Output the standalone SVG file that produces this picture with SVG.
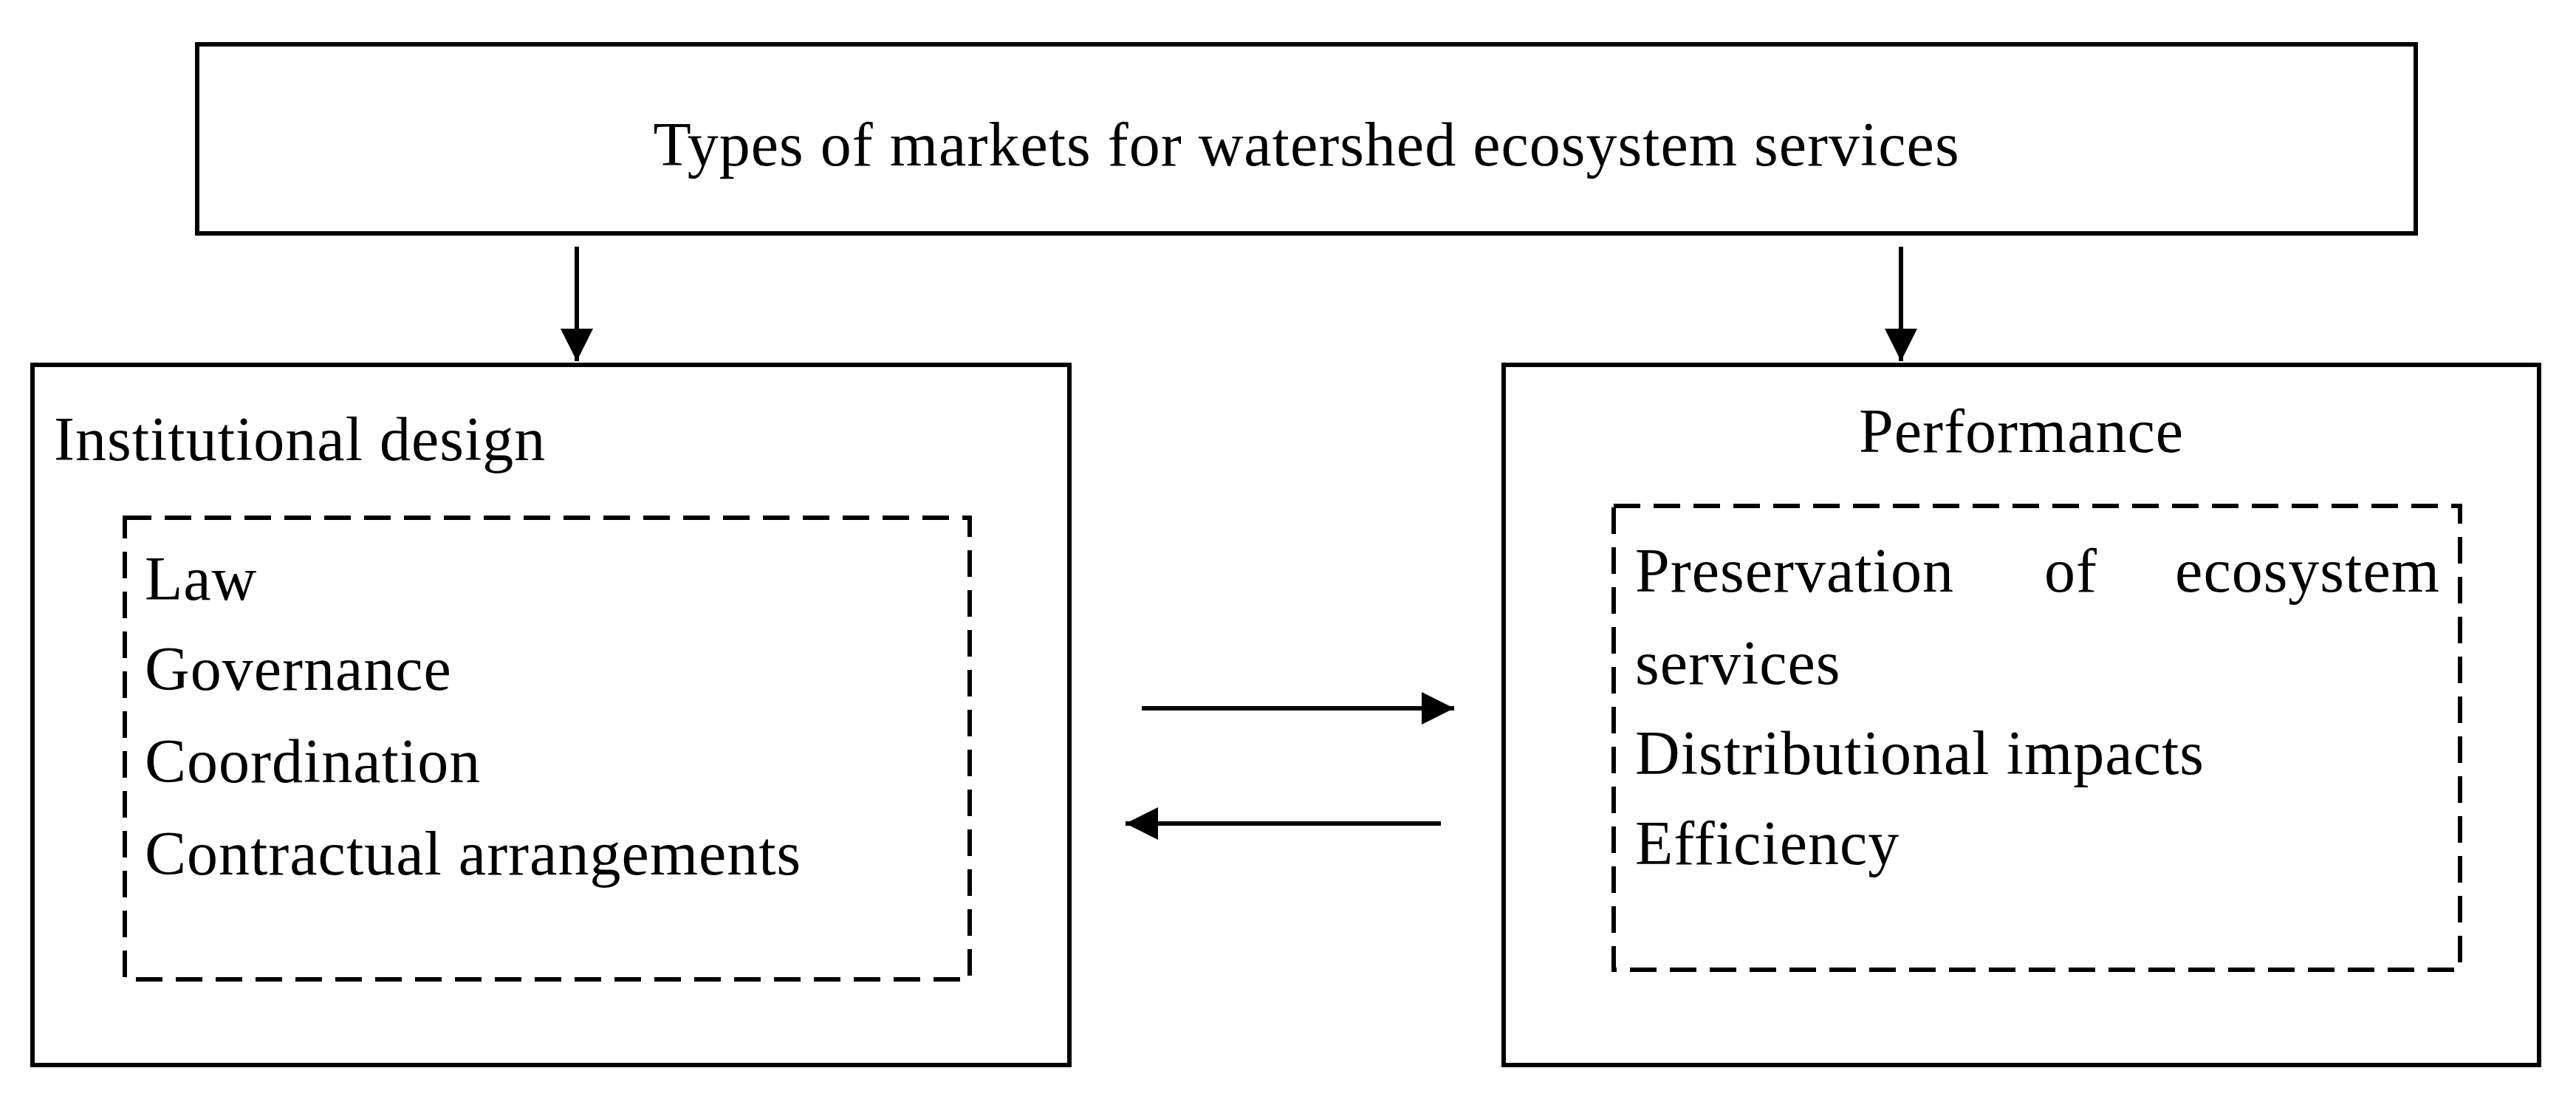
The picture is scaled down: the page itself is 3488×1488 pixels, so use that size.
<svg xmlns="http://www.w3.org/2000/svg" width="3488" height="1488" viewBox="0 0 3488 1488">
<style>
.b{fill:none;stroke:#000;stroke-width:6}
.d{fill:none;stroke:#000;stroke-width:6;stroke-dasharray:36,18}
.l{stroke:#000;stroke-width:6;fill:none}
text{font-family:"Liberation Serif",serif;font-size:84px;fill:#000;letter-spacing:1px}
</style>
<defs>
<marker id="m" viewBox="0 0 10 10" refX="10" refY="5" markerWidth="48" markerHeight="44" markerUnits="userSpaceOnUse" orient="auto"><path d="M0,0L10,5L0,10z" fill="#000"/></marker></defs>
<g id="top"><rect class="b" x="267" y="60" width="3004" height="256"/><text x="1769" y="224" text-anchor="middle">Types of markets for watershed ecosystem services</text></g>
<g id="institutional"><rect class="b" x="44" y="494" width="1404" height="948"/><text x="73" y="623">Institutional design</text>
<rect class="d" x="169" y="701" width="1144" height="625"/>
<text x="196" y="812">Law</text><text x="196" y="934">Governance</text><text x="196" y="1059">Coordination</text><text x="196" y="1184">Contractual arrangements</text></g>
<g id="performance"><rect class="b" x="2036" y="494" width="1402" height="948"/><text x="2737" y="612" text-anchor="middle">Performance</text>
<rect class="d" x="2185" y="685" width="1146" height="628"/>
<text x="2214" y="801">Preservation</text><text x="2768" y="801">of</text><text x="3304" y="801" text-anchor="end">ecosystem</text>
<text x="2214" y="926">services</text><text x="2214" y="1048">Distributional impacts</text><text x="2214" y="1170">Efficiency</text></g>
<g id="connectors">
<line class="l" x1="781" y1="334" x2="781" y2="489" marker-end="url(#m)"/>
<line class="l" x1="2574" y1="334" x2="2574" y2="489" marker-end="url(#m)"/>
<line class="l" x1="1546" y1="959" x2="1969" y2="959" marker-end="url(#m)"/>
<line class="l" x1="1951" y1="1115" x2="1524" y2="1115" marker-end="url(#m)"/>
</g>
</svg>
